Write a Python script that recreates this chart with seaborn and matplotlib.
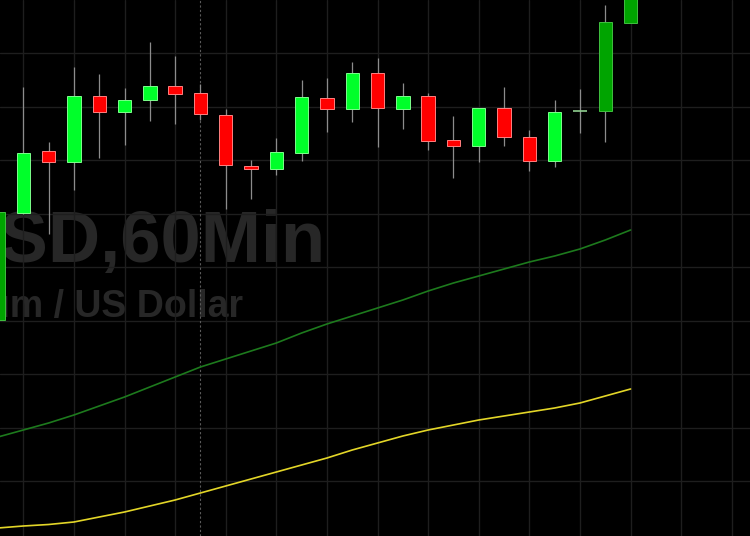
import numpy as np
import pandas as pd
import matplotlib
matplotlib.use("Agg")
import matplotlib.pyplot as plt
import seaborn as sns

# Valores (escala de precio arbitraria, 1 unidad = 1 px)
opens = [216, 323, 385, 374, 440, 424, 436, 450, 443, 421, 370, 367, 383,
         438, 427, 463, 427, 440, 396, 390, 428, 399, 375, 425, 425, 513]
highs = [331, 449, 394, 469, 462, 448, 494, 480, 452, 427, 376, 398, 456,
         458, 474, 478, 453, 443, 420, 428, 449, 406, 436, 447, 531, 560]
lows = [211, 322, 302, 346, 378, 391, 415, 412, 416, 327, 337, 361, 375,
        404, 414, 389, 407, 386, 358, 374, 390, 365, 369, 403, 394, 513]
closes = [324, 383, 374, 440, 424, 436, 450, 442, 422, 371, 367, 384, 439,
          427, 463, 428, 440, 395, 390, 428, 399, 375, 424, 425, 514, 545]

# Medias moviles
ma_fast = [99, 106, 113, 121, 130, 139, 149, 159, 169, 177, 185, 193, 203,
           212, 220, 228, 236, 245, 253, 260, 267, 274, 280, 287, 296, 306]
ma_slow = [8, 10, 11.5, 14, 19, 24, 30, 36, 43, 50, 57, 64, 71,
           78, 86, 93, 100, 106, 111, 116, 120, 124, 128, 133, 140, 147]

# Velas resaltadas en verde oscuro
dark_idx = [0, 24, 25]

titulo = "ETHUSD,60Min"
subtitulo = "Ethereum / US Dollar"


def main():
    df = pd.DataFrame({"open": opens, "high": highs, "low": lows, "close": closes,
                       "ma_fast": ma_fast, "ma_slow": ma_slow})
    df["idx"] = np.arange(len(df))

    sns.set_style("dark", {"axes.facecolor": "black", "figure.facecolor": "black"})
    fig = plt.figure(figsize=(7.5, 5.36), dpi=100)
    ax = fig.add_axes([0, 0, 1, 1])
    ax.set_facecolor("black")

    # Rejilla
    ax.set_xticks(np.arange(1, 31, 2))
    ax.set_yticks([55, 108.5, 162, 215.5, 269, 322.5, 376, 429.5, 483])
    ax.grid(True, color="#1e1e1e", linewidth=1)
    ax.axvline(8, color="#5a5a5a", linewidth=0.8, linestyle=(0, (2, 2)), zorder=1)

    # Marca de agua
    ax.text(0.4333, 0.511, titulo, transform=ax.transAxes, ha="right", va="baseline",
            fontsize=52, fontweight="bold", color="#272727",
            family=["Liberation Sans", "DejaVu Sans"], zorder=0)
    ax.text(0.324, 0.409, subtitulo, transform=ax.transAxes, ha="right", va="baseline",
            fontsize=27, fontweight="bold", color="#272727",
            family=["Liberation Sans", "DejaVu Sans"], zorder=0)

    # Medias moviles
    sns.lineplot(data=df, x="idx", y="ma_fast", color="#1d7a1d", linewidth=1.2, ax=ax, zorder=2)
    sns.lineplot(data=df, x="idx", y="ma_slow", color="#e3d628", linewidth=1.2, ax=ax, zorder=2)

    # Velas
    ax.vlines(df["idx"], df["low"], df["high"], color="#8c8c8c", linewidth=0.9, zorder=3)
    for i, row in df.iterrows():
        o, c = row["open"], row["close"]
        if c > o:
            face = "#00a400" if i in dark_idx else "#00ff2a"
            edge = "#40c040" if i in dark_idx else "#7dff8c"
        elif c < o:
            face, edge = "#ff0000", "#ff8080"
        else:
            ax.hlines(o, i - 0.27, i + 0.27, color="#8fcf8f", linewidth=1.2, zorder=4)
            continue
        ax.bar(i, abs(c - o), bottom=min(o, c), width=0.53, color=face,
               edgecolor=edge, linewidth=0.7, zorder=4)

    ax.set_xlim(0.079, 29.72)
    ax.set_ylim(0, 536)
    ax.tick_params(length=0, labelbottom=False, labelleft=False)
    ax.set_xlabel("")
    ax.set_ylabel("")
    for s in ax.spines.values():
        s.set_visible(False)

    fig.savefig("out.png", dpi=100, facecolor="black")


if __name__ == "__main__":
    main()
